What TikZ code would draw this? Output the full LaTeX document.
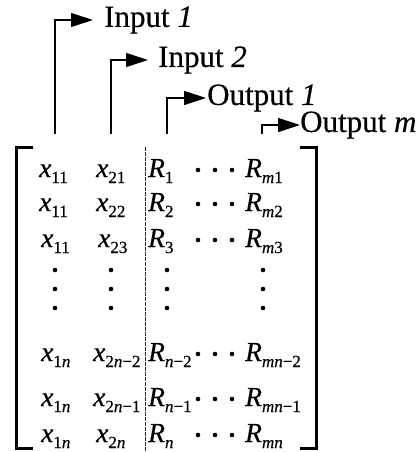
\documentclass[tikz,border=0pt]{standalone}
\usepackage{fontspec}
\setmainfont{Liberation Serif}[FakeBold=0.4]
\usetikzlibrary{arrows.meta, positioning}

% entry with a lowered subscript
\newcommand{\ent}[2]{\textit{#1}{\fontsize{17}{17}\selectfont\raisebox{-6pt}{#2}}}

\tikzset{
  lbl/.style={anchor=west, inner sep=0pt, font=\fontsize{31}{32}\selectfont},
  cell/.style={anchor=base west, inner sep=0pt, font=\fontsize{27.5}{28}\selectfont},
  feed/.style={line width=1.1pt, -{Triangle[length=22pt,width=14pt]}},
  brk/.style={line width=3pt},
  sep/.style={line width=1pt, dash pattern=on 3.5pt off 1.5pt, black!85},
}

\begin{document}
\begin{tikzpicture}[x=1pt, y=-1pt]
        \useasboundingbox (0,0) rectangle (419,452);
        % column headings
        \node[lbl, inner xsep=11pt] (in1)  at (93,20)  {Input \textit{1}};
        \node[lbl, inner xsep=10pt] (in2)  at (148,60) {Input \textit{2}};
        \node[lbl, inner xsep=1pt]  (out1) at (206,98) {Output \textit{1}};
        \node[lbl, inner xsep=0pt]  (outm) at (300,125){Output \textit{m}};
        \coordinate (s1) at (55,134);
        \coordinate (s2) at (111,134);
        \coordinate (s3) at (167,134);
        \coordinate (s4) at (262,134);
        \draw[feed] (s1) |- (in1.west);
        \draw[feed] (s2) |- (in2.west);
        \draw[feed] (s3) |- (out1.west);
        \draw[feed] (s4) |- (outm.west);
        % brackets and input/output divider
        \draw[brk] (33,147) -- (16,147) -- (16,448) -- (33,448);
        \draw[brk] (300,147) -- (316,147) -- (316,448) -- (300,448);
        \draw[sep] (145,147) -- (145,452);
        % rows 1--3
        \node[cell] (a1) at (39,177) {\ent{x}{11}};
        \node[cell] (b1) at (96,177) {\ent{x}{21}};
        \node[cell] (r1) at (148,177){\ent{R}{1}};
        \node[cell] (m1) at (245,177){\ent{R}{\textit{m}1}};
        \node[cell] (a2) at (39,211) {\ent{x}{11}};
        \node[cell] (b2) at (96,211) {\ent{x}{22}};
        \node[cell] (r2) at (148,211){\ent{R}{2}};
        \node[cell] (m2) at (245,211){\ent{R}{\textit{m}2}};
        \node[cell] (a3) at (41,247) {\ent{x}{11}};
        \node[cell] (b3) at (98,247) {\ent{x}{23}};
        \node[cell] (r3) at (148,247){\ent{R}{3}};
        \node[cell] (m3) at (245,247){\ent{R}{\textit{m}3}};
        % rows n-2 .. n
        \node[cell] (a4) at (41,361) {\ent{x}{1\textit{n}}};
        \node[cell] (b4) at (93,361) {\ent{x}{2\textit{n}−2}};
        \node[cell] (r4) at (148,361){\ent{R}{\textit{n}−2}};
        \node[cell] (m4) at (245,361){\ent{R}{\textit{mn}−2}};
        \node[cell] (a5) at (41,406) {\ent{x}{1\textit{n}}};
        \node[cell] (b5) at (93,406) {\ent{x}{2\textit{n}−1}};
        \node[cell] (r5) at (148,406){\ent{R}{\textit{n}−1}};
        \node[cell] (m5) at (245,406){\ent{R}{\textit{mn}−1}};
        \node[cell] (a6) at (41,442) {\ent{x}{1\textit{n}}};
        \node[cell] (b6) at (96,442) {\ent{x}{2\textit{n}}};
        \node[cell] (r6) at (148,442){\ent{R}{\textit{n}}};
        \node[cell] (m6) at (245,442){\ent{R}{\textit{mn}}};
        % dots along the rows and down the columns
        \foreach \y in {170,204,240,354,399,435}
          \foreach \x in {198,215,232}
            \fill (\x,\y) circle (2.3pt);
        \foreach \x in {55,111,167,263}
          \foreach \y in {270,289,308}
            \fill (\x,\y) circle (2.3pt);
      \end{tikzpicture}
\end{document}
